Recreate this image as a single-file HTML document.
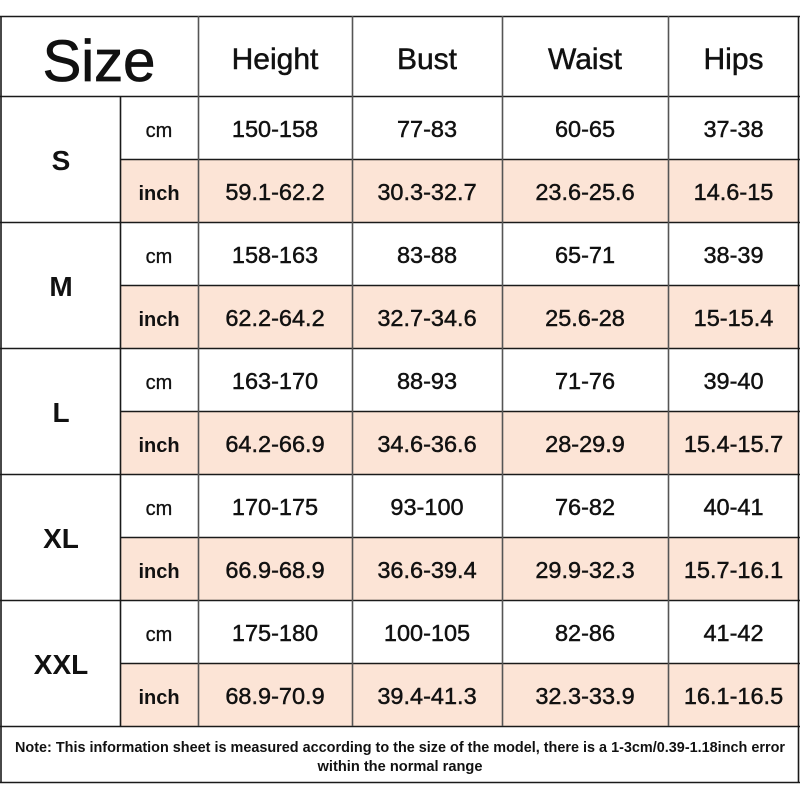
<!DOCTYPE html>
<html><head><meta charset="utf-8"><style>
html,body{margin:0;padding:0;background:#fff;}
svg{display:block;}
text{font-family:"Liberation Sans",sans-serif;fill:#111;}
</style></head><body>
<svg width="800" height="800" viewBox="0 0 800 800" xmlns="http://www.w3.org/2000/svg">
<rect width="800" height="800" fill="#fff"/>
<g fill="#fce4d6">
<rect x="120" y="159" width="679" height="63"/>
<rect x="120" y="285" width="679" height="63"/>
<rect x="120" y="411" width="679" height="63"/>
<rect x="120" y="537" width="679" height="63"/>
<rect x="120" y="663" width="679" height="63"/>
</g>
<g stroke="#1a1a1a" stroke-width="1.6">
<line x1="0" y1="16.5" x2="800" y2="16.5"/>
<line x1="0" y1="96.5" x2="800" y2="96.5"/>
<line x1="120" y1="159.5" x2="800" y2="159.5"/>
<line x1="0" y1="222.5" x2="800" y2="222.5"/>
<line x1="120" y1="285.5" x2="800" y2="285.5"/>
<line x1="0" y1="348.5" x2="800" y2="348.5"/>
<line x1="120" y1="411.5" x2="800" y2="411.5"/>
<line x1="0" y1="474.5" x2="800" y2="474.5"/>
<line x1="120" y1="537.5" x2="800" y2="537.5"/>
<line x1="0" y1="600.5" x2="800" y2="600.5"/>
<line x1="120" y1="663.5" x2="800" y2="663.5"/>
<line x1="0" y1="726.5" x2="800" y2="726.5"/>
<line x1="0" y1="782.5" x2="800" y2="782.5"/>
<line x1="1" y1="16" x2="1" y2="783"/>
<line x1="798.5" y1="16" x2="798.5" y2="783"/>
<line x1="120.5" y1="96" x2="120.5" y2="726"/>
</g>
<g stroke="#555" stroke-width="1.6">
<line x1="198.5" y1="16" x2="198.5" y2="726"/>
<line x1="352.5" y1="16" x2="352.5" y2="726"/>
<line x1="502.5" y1="16" x2="502.5" y2="726"/>
<line x1="668.5" y1="16" x2="668.5" y2="726"/>
</g>
<g text-anchor="middle">
<g stroke="#111" stroke-width="0.5">
<text x="99" y="81" font-size="58" stroke-width="0.8">Size</text>
<text x="275" y="69" font-size="30">Height</text>
<text x="427" y="69" font-size="30">Bust</text>
<text x="585" y="69" font-size="30">Waist</text>
<text x="733.5" y="69" font-size="30">Hips</text>
</g>

<g font-size="28" font-weight="bold">
<text x="61" y="170">S</text>
<text x="61" y="296">M</text>
<text x="61" y="422">L</text>
<text x="61" y="548">XL</text>
<text x="61" y="674">XXL</text>
</g>
<g font-size="20" stroke="#111" stroke-width="0.3">
<text x="159" y="137">cm</text>
<text x="159" y="263">cm</text>
<text x="159" y="389">cm</text>
<text x="159" y="515">cm</text>
<text x="159" y="641">cm</text>
</g>
<g font-size="20" font-weight="bold">
<text x="159" y="200">inch</text>
<text x="159" y="326">inch</text>
<text x="159" y="452">inch</text>
<text x="159" y="578">inch</text>
<text x="159" y="704">inch</text>
</g>
<g font-size="23.5" stroke="#111" stroke-width="0.45">
<text x="275" y="137">150-158</text><text x="427" y="137">77-83</text><text x="585" y="137">60-65</text><text x="733.5" y="137">37-38</text>
<text x="275" y="200">59.1-62.2</text><text x="427" y="200">30.3-32.7</text><text x="585" y="200">23.6-25.6</text><text x="733.5" y="200">14.6-15</text>
<text x="275" y="263">158-163</text><text x="427" y="263">83-88</text><text x="585" y="263">65-71</text><text x="733.5" y="263">38-39</text>
<text x="275" y="326">62.2-64.2</text><text x="427" y="326">32.7-34.6</text><text x="585" y="326">25.6-28</text><text x="733.5" y="326">15-15.4</text>
<text x="275" y="389">163-170</text><text x="427" y="389">88-93</text><text x="585" y="389">71-76</text><text x="733.5" y="389">39-40</text>
<text x="275" y="452">64.2-66.9</text><text x="427" y="452">34.6-36.6</text><text x="585" y="452">28-29.9</text><text x="733.5" y="452">15.4-15.7</text>
<text x="275" y="515">170-175</text><text x="427" y="515">93-100</text><text x="585" y="515">76-82</text><text x="733.5" y="515">40-41</text>
<text x="275" y="578">66.9-68.9</text><text x="427" y="578">36.6-39.4</text><text x="585" y="578">29.9-32.3</text><text x="733.5" y="578">15.7-16.1</text>
<text x="275" y="641">175-180</text><text x="427" y="641">100-105</text><text x="585" y="641">82-86</text><text x="733.5" y="641">41-42</text>
<text x="275" y="704">68.9-70.9</text><text x="427" y="704">39.4-41.3</text><text x="585" y="704">32.3-33.9</text><text x="733.5" y="704">16.1-16.5</text>
</g>
<g font-size="14.5" font-weight="bold">
<text x="400" y="752" textLength="770" lengthAdjust="spacingAndGlyphs">Note: This information sheet is measured according to the size of the model, there is a 1-3cm/0.39-1.18inch error</text>
<text x="400" y="771" textLength="165" lengthAdjust="spacingAndGlyphs">within the normal range</text>
</g>
</g>
</svg>
</body></html>
